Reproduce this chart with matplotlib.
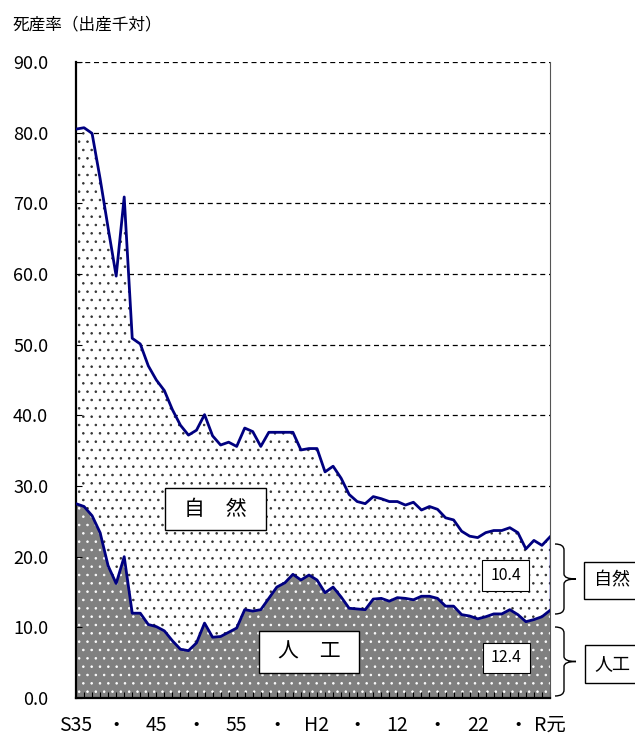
import matplotlib
matplotlib.use("Agg")
import matplotlib.pyplot as plt
import numpy as np
from matplotlib.patches import Rectangle, PathPatch
from matplotlib.path import Path

plt.rcParams['font.family'] = ['Noto Sans CJK JP', 'DejaVu Sans']
plt.rcParams['hatch.linewidth'] = 0.6

# stillbirth rate per 1000 births, S35 (1960) .. R1 (2019)
years = list(range(1960, 2020))
total = [80.5, 80.7, 79.9, 73.5, 66.5, 59.7, 70.9, 50.9, 50.1, 47.0,
         45.0, 43.5, 40.8, 38.6, 37.2, 37.9, 40.1, 37.1, 35.8, 36.2,
         35.6, 38.2, 37.7, 35.6, 37.6, 37.6, 37.6, 37.6, 35.1, 35.3,
         35.3, 32.0, 32.8, 31.1, 28.8, 27.8, 27.5, 28.5, 28.2, 27.8,
         27.8, 27.3, 27.7, 26.6, 27.1, 26.7, 25.5, 25.2, 23.6, 22.9,
         22.7, 23.4, 23.7, 23.7, 24.1, 23.4, 21.1, 22.3, 21.6, 22.8]
artificial = [27.5, 27.1, 25.8, 23.4, 18.7, 16.2, 20.0, 12.0, 12.0, 10.4,
              10.1, 9.5, 8.1, 6.9, 6.7, 7.8, 10.6, 8.6, 8.7, 9.3,
              9.9, 12.5, 12.3, 12.5, 14.1, 15.7, 16.3, 17.5, 16.7, 17.4,
              16.7, 14.9, 15.7, 14.3, 12.7, 12.6, 12.5, 14.0, 14.1, 13.7,
              14.2, 14.1, 13.9, 14.4, 14.4, 14.1, 13.0, 13.0, 11.8, 11.6,
              11.2, 11.5, 11.9, 11.9, 12.5, 11.8, 10.8, 11.1, 11.5, 12.4]
last_natural = 10.4
last_artificial = 12.4

tick_years = [1960, 1965, 1970, 1975, 1980, 1985, 1990, 1995, 2000, 2005, 2010, 2015, 2019]
tick_labels = ['S35', '・', '45', '・', '55', '・', 'H2', '・', '12', '・', '22', '・', 'R元']
yticks = np.arange(0, 91, 10)

W, H = 635, 735
fig = plt.figure(figsize=(W / 100, H / 100), dpi=100)
ax = fig.add_axes([76 / W, 1 - 698 / H, (550 - 76) / W, (698 - 62) / H])

x = np.array(years)
tot = np.array(total)
art = np.array(artificial)

for yv in yticks[1:]:
    ax.axhline(yv, color='black', lw=0.9, ls=(0, (4, 3)), zorder=0.5)

ax.fill_between(x, art, tot, facecolor='white', edgecolor='#333333',
                hatch='..', linewidth=0, zorder=1)
ax.fill_between(x, 0, art, facecolor='#808080', edgecolor='white',
                hatch='..', linewidth=0, zorder=1.1)
ax.plot(x, tot, color='#000080', lw=2, zorder=3)
ax.plot(x, art, color='#000080', lw=2, zorder=3)
# right edge of the natural area
ax.plot([x[-1], x[-1]], [art[-1], tot[-1]], color='#0000a0', lw=1, zorder=3)

ax.set_xlim(1960, 2019)
ax.set_ylim(0, 90)
ax.set_yticks(yticks)
ax.set_yticklabels(['%.1f' % v for v in yticks])
ax.set_xticks(tick_years)
ax.set_xticklabels(tick_labels)
ax.set_xticks(years, minor=True)
ax.tick_params(axis='y', direction='in', length=4, pad=20, labelsize=13)
ax.tick_params(axis='x', which='both', direction='in', length=4, width=0.8, pad=12, labelsize=14)

ax.spines['top'].set_visible(False)
ax.spines['left'].set_linewidth(1.6)
ax.spines['bottom'].set_linewidth(1.6)
ax.spines['right'].set_linewidth(0.8)
ax.spines['right'].set_color('#555555')

fig.text(13 / W, 1 - 25 / H, '死産率（出産千対）', fontsize=12, va='center', ha='left')


def box(x0, y0, x1, y1, label, size, lw=1.0):
    r = Rectangle((x0 / W, 1 - y1 / H), (x1 - x0) / W, (y1 - y0) / H,
                  transform=fig.transFigure, facecolor='white',
                  edgecolor='black', lw=lw, zorder=5)
    fig.add_artist(r)
    fig.text((x0 + x1) / 2 / W, 1 - (y0 + y1) / 2 / H, label, fontsize=size,
             ha='center', va='center', zorder=6)


box(165, 488, 266, 530, '自　然', 15)
box(259, 631, 359, 673, '人　工', 15)
box(482, 560, 529, 591, '%.1f' % last_natural, 11.5, lw=0.8)
box(483, 643, 530, 673, '%.1f' % last_artificial, 11.5, lw=0.8)
box(584, 562, 640, 599, '自然', 13)
box(585, 645, 640, 683, '人工', 13)


def brace(top, bottom, xl=555, xv=564, xt=576):
    mid = (top + bottom) / 2
    pts = [(xl, top), (xv, top), (xv, top + 6),
           (xv, mid - 5), (xv, mid), (xt, mid),
           (xv, mid), (xv, mid + 5),
           (xv, bottom - 6), (xv, bottom), (xl, bottom)]
    codes = [Path.MOVETO, Path.CURVE3, Path.CURVE3,
             Path.LINETO, Path.CURVE3, Path.CURVE3,
             Path.CURVE3, Path.CURVE3,
             Path.LINETO, Path.CURVE3, Path.CURVE3]
    verts = [(px / W, 1 - py / H) for px, py in pts]
    fig.add_artist(PathPatch(Path(verts, codes), transform=fig.transFigure,
                             facecolor='none', edgecolor='black', lw=1.0))


brace(544, 614)
brace(627, 696)

fig.savefig('out.png', dpi=100)
